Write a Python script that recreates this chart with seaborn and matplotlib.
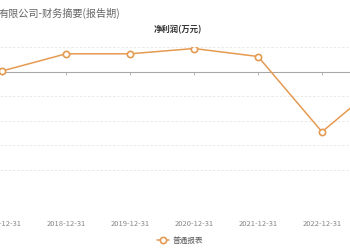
import matplotlib
matplotlib.use("Agg")
import matplotlib.pyplot as plt
import seaborn as sns
import pandas as pd

dates = ["2017-12-31", "2018-12-31", "2019-12-31", "2020-12-31",
         "2021-12-31", "2022-12-31", "2023-12-31"]
net_profit = [10, 361, 361, 469, 306, -1231, -140]
y_ticks = [-2500, -2000, -1500, -1000, -500, 0, 500]
series_name = "普通报表"
title = "有限公司-财务摘要(报告期)"
subtitle = "净利润(万元)"

sns.set_theme(style="white")
plt.rcParams['font.family'] = ['Noto Sans CJK SC', 'DejaVu Sans']

orange = "#e59a52"
fig = plt.figure(figsize=(3.5, 2.5), dpi=100)
fig.patch.set_facecolor("white")
ax = fig.add_axes([0, 0.224, 1, 0.588])

df = pd.DataFrame({"date": dates, "value": net_profit})
sns.lineplot(data=df, x="date", y="value", ax=ax, color=orange, linewidth=1.1,
             marker="o", markersize=4.5, markerfacecolor="white",
             markeredgecolor=orange, markeredgewidth=1.2, label=series_name,
             zorder=5)

ax.set_xticks(range(len(dates)))
ax.set_xticklabels(dates, fontsize=5.5, color="#888888")
ax.set_yticks(y_ticks)
ax.set_yticklabels([])
ax.set_xlim(-0.03125, 5.4375)
ax.set_ylim(y_ticks[0], y_ticks[-1])
ax.yaxis.grid(True, color="#e6e6e6", linestyle=(0, (3, 2)), linewidth=0.6)
ax.axhline(0, color="#a8a8a8", linewidth=0.8, zorder=2)
ax.vlines(range(len(dates)), -70, 0, color="#a8a8a8", linewidth=0.6, zorder=2)
for s in ax.spines.values():
    s.set_visible(False)
ax.tick_params(axis="x", length=0, pad=19)
ax.tick_params(axis="y", length=0)
ax.set_xlabel("")
ax.set_ylabel("")

ax.legend(loc="center", bbox_to_anchor=(0.514, 0.036), bbox_transform=fig.transFigure,
          frameon=False, fontsize=5.5, handlelength=1.6, handletextpad=0.4,
          labelcolor="#555555")

fig.text(-0.005, 1 - 13 / 250, title, ha="left", va="center", fontsize=7.3, color="#666666")
fig.text(0.509, 1 - 30 / 250, subtitle, ha="center", va="center", fontsize=6,
         fontweight="bold", color="#333333")

fig.savefig("out.png", dpi=100, facecolor="white")
